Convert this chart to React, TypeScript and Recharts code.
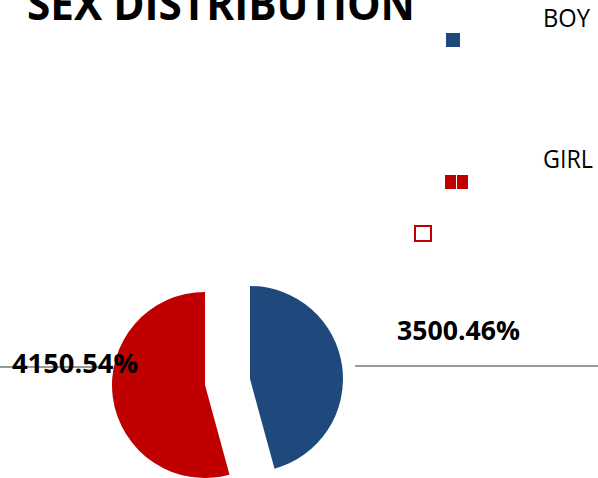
import React from 'react';
import { PieChart, Pie, Cell, Customized } from 'recharts';

const categories = ['BOY', 'GIRL'];
const counts = [3500, 4150];
const colors = ['#1f497d', '#c00000'];

const data = categories.map((name, i) => ({ name, value: counts[i] }));

const W = 598;
const H = 478;
const FONT = '"Open Sans", "Noto Sans", sans-serif';

// exploded slices: each pie draws one slice, shifted out along its mid angle
const pies = [
  { cx: 250, cy: 379, show: 0, label: { x: 397, y: 340, w: 123 } },
  { cx: 205, cy: 385, show: 1, label: { x: 12, y: 373, w: 126 } },
];

const makeLabel = (show: number, pos: { x: number; y: number; w: number }) => (props: any) => {
  if (props.index !== show) return null;
  const pct = Math.round(props.percent * 100);
  return (
    <text
      x={pos.x}
      y={pos.y}
      fontFamily={FONT}
      fontWeight={700}
      fontSize={26}
      fill="#000"
      textLength={pos.w}
      lengthAdjust="spacingAndGlyphs"
    >
      {`${props.value}.${pct}%`}
    </text>
  );
};

const Decor = () => (
  <g>
    <line x1={0} y1={367} x2={108} y2={367} stroke="#999" strokeWidth={2} />
    <line x1={355} y1={366} x2={W} y2={366} stroke="#999" strokeWidth={2} />
  </g>
);

const Header = () => (
  <g>
    <text
      x={27}
      y={20}
      fontFamily={FONT}
      fontWeight={700}
      fontSize={44}
      fill="#000"
      textLength={388}
      lengthAdjust="spacingAndGlyphs"
    >
      SEX DISTRIBUTION
    </text>
    {/* legend, laid out the way the source export left it */}
    <text x={543} y={27} fontFamily={FONT} fontSize={26} fill="#000" textLength={47} lengthAdjust="spacingAndGlyphs">
      {categories[0]}
    </text>
    <rect x={446} y={33} width={14} height={14} fill={colors[0]} />
    <text x={543} y={168} fontFamily={FONT} fontSize={26} fill="#000" textLength={50} lengthAdjust="spacingAndGlyphs">
      {categories[1]}
    </text>
    <rect x={445} y={175} width={11} height={14} fill={colors[1]} />
    <rect x={457} y={175} width={11} height={14} fill={colors[1]} />
    <rect x={415} y={226} width={16} height={15} fill="none" stroke={colors[1]} strokeWidth={2} />
  </g>
);

export default function App() {
  return (
    <div style={{ position: 'absolute', left: 0, top: 0, width: W, height: H, background: '#fff' }}>
      <PieChart width={W} height={H} margin={{ top: 0, right: 0, bottom: 0, left: 0 }}>
        <Customized component={Decor} />
        {pies.map((p, k) => (
          <Pie
            key={k}
            data={data}
            dataKey="value"
            nameKey="name"
            cx={p.cx}
            cy={p.cy}
            outerRadius={93}
            startAngle={90}
            endAngle={-270}
            stroke="none"
            labelLine={false}
            label={makeLabel(p.show, p.label)}
            isAnimationActive={false}
          >
            {data.map((d, i) => (
              <Cell key={d.name} fill={i === p.show ? colors[i] : 'none'} stroke="none" />
            ))}
          </Pie>
        ))}
        <Customized component={Header} />
      </PieChart>
    </div>
  );
}
